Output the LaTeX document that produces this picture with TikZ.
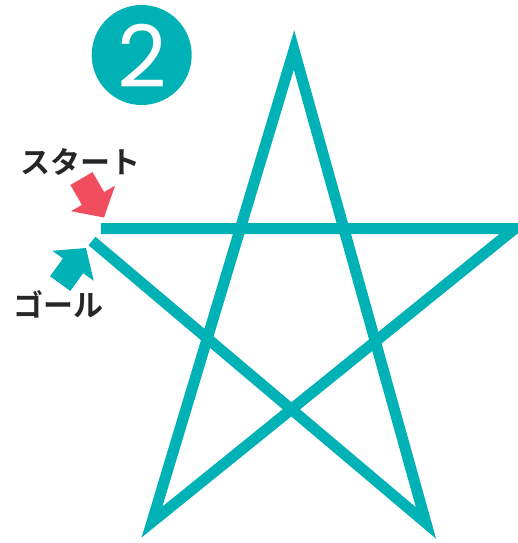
\documentclass[tikz,border=0pt]{standalone}
\usepackage{fontspec}
\setmainfont{Poppins}
\newfontfamily\jpfont{Noto Sans CJK JP}[BoldFont=* Bold]
\definecolor{teal1}{HTML}{00B1B5}
\definecolor{red1}{HTML}{F04E5E}
\tikzset{
  starline/.style={draw=teal1, line width=11pt, line join=miter, line cap=butt},
  label1/.style={font=\jpfont\bfseries\fontsize{30}{30}\selectfont, text=black!85, inner sep=0pt},
  blockarrow/.style={line width=0pt}
}
\begin{document}
\begin{tikzpicture}[x=1pt,y=-1pt]
\useasboundingbox (0,0) rectangle (518,543);
\clip (0,0) rectangle (518,543);
% badge
\node[circle, fill=teal1, minimum size=100pt, inner sep=0pt] (badge) at (141.7,55) {};
\node[text=white, font=\fontsize{86}{86}\selectfont, inner sep=0pt] (num) at (142,55.5) {2};
% star vertices
\coordinate (S) at (101,228.5);
\coordinate (R) at (515,228.5);
\coordinate (BL) at (152,522);
\coordinate (T) at (294,50);
\coordinate (BR) at (426,523);
\coordinate (G) at (92,241);
\draw[starline] (S) -- (R) -- (BL) -- (T) -- (BR) -- (G);
% labels
\node[label1] (start) at (80,162) {スタート};
\node[label1] (goal) at (58.5,304) {ゴール};
% start arrow
\begin{scope}[shift={(104,217.5)}, rotate=-60]
\fill[red1] (0,0) -- (-22,25.5) -- (-22,12.8) -- (-45,12.8) -- (-45,-12.8) -- (-22,-12.8) -- (-22,-25.5) -- cycle;
\end{scope}
% goal arrow
\begin{scope}[shift={(86,248)}, rotate=54]
\fill[teal1] (0,0) -- (-22,25.5) -- (-22,12.5) -- (-44,12.5) -- (-44,-12.5) -- (-22,-12.5) -- (-22,-25.5) -- cycle;
\end{scope}
\end{tikzpicture}
\end{document}
